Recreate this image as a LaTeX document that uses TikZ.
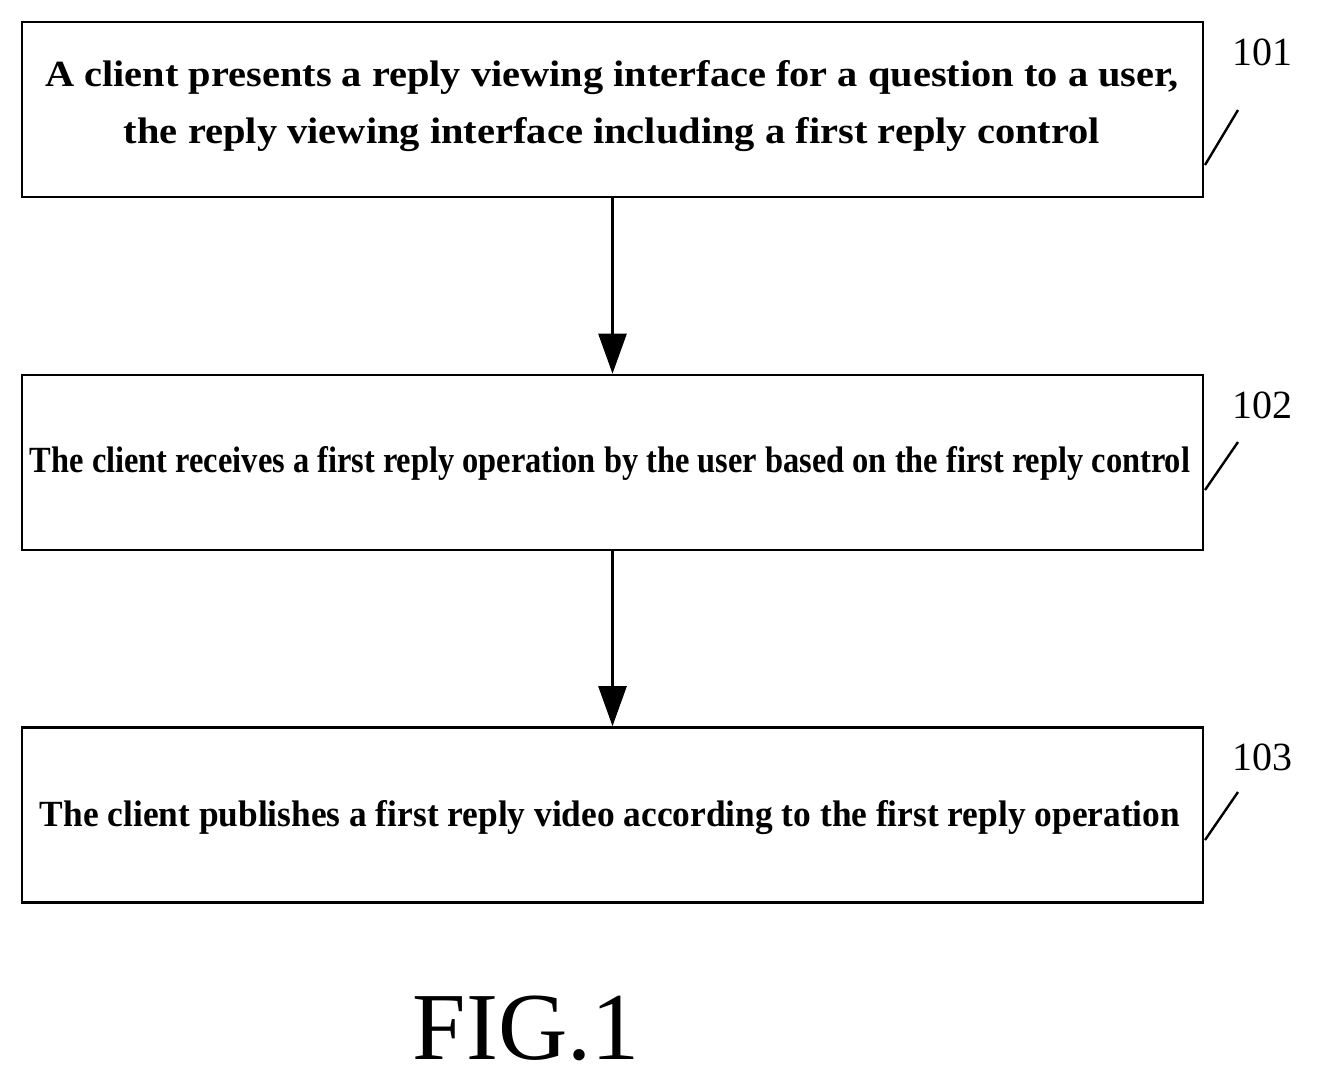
\documentclass[tikz,border=0pt]{standalone}
\usepackage{fontspec}
\setmainfont{Liberation Serif}
\usepackage{graphicx}
\usetikzlibrary{arrows.meta}
\begin{document}
\begin{tikzpicture}[x=1pt,y=-1pt,
  box/.style={draw,line width=2.6pt,minimum width=1181pt,minimum height=175pt,inner sep=0pt},
  num/.style={font=\fontsize{40}{40}\selectfont,anchor=center},
  arr/.style={line width=2.6pt,-{Triangle[length=40pt,width=28pt]}},
  lead/.style={line width=2.4pt}]
\useasboundingbox (0,0) rectangle (1319,1082);
\node[box] (b1) at (612.5,109.5) {};
\node[box] (b2) at (612.5,462.5) {};
\node[box] (b3) at (612.5,815) {};
\node (t1a) at (612,78) {\resizebox{1133pt}{26pt}{\bfseries A client presents a reply viewing interface for a question to a user,}};
\node (t1b) at (612,135) {\resizebox{976pt}{26pt}{\bfseries the reply viewing interface including a first reply control}};
\node (t2) at (610,463) {\resizebox{1160pt}{26pt}{\bfseries The client receives a first reply operation by the user based on the first reply control}};
\node (t3) at (610,818) {\resizebox{1140pt}{26pt}{\bfseries The client publishes a first reply video according to the first reply operation}};
\draw[arr] (b1.south) -- (b2.north);
\draw[arr] (b2.south) -- (b3.north);
\node[num] (n1) at (1262,52) {101};
\node[num] (n2) at (1262,405) {102};
\node[num] (n3) at (1262,757) {103};
\coordinate (c1) at (1205,165); \coordinate (d1) at (1238,110);
\coordinate (c2) at (1205,490); \coordinate (d2) at (1238,442);
\coordinate (c3) at (1205,840); \coordinate (d3) at (1238,792);
\draw[lead] (c1) -- (d1);
\draw[lead] (c2) -- (d2);
\draw[lead] (c3) -- (d3);
\node (fig) at (526,1028) {\fontsize{96}{96}\selectfont FIG.1};
\end{tikzpicture}
\end{document}
